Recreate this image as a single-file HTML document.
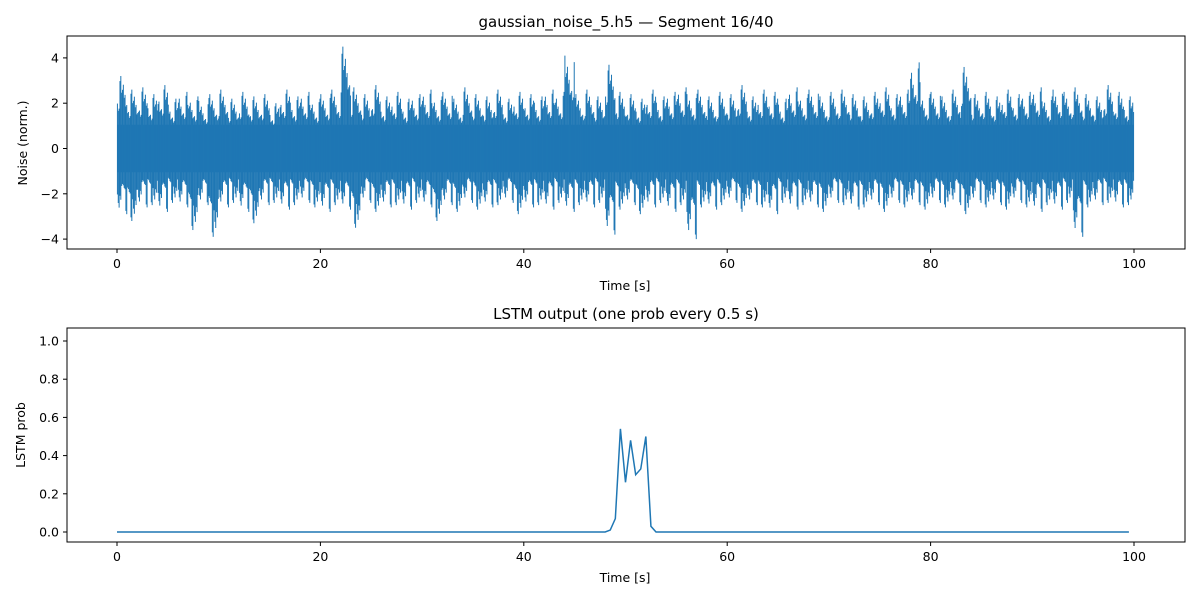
<!DOCTYPE html>
<html><head><meta charset="utf-8"><style>
body{margin:0;background:#fff;font-family:"Liberation Sans","DejaVu Sans",sans-serif}
svg text{font-family:"DejaVu Sans","Liberation Sans",sans-serif;fill:#000}
</style></head><body>
<svg id="c" width="1200" height="600" xmlns="http://www.w3.org/2000/svg"></svg>
<script>
// Noise segment: per-second envelope (max / min) over 100 s
const noiseHi=[3.2,2.6,2.7,2.4,2.8,2.2,2.5,2.3,2.1,2.4,2.6,2.2,2.5,2.3,2.4,2.0,2.6,2.3,2.5,2.2,2.4,2.6,4.5,2.7,2.4,2.8,2.3,2.5,2.2,2.4,2.6,2.3,2.5,2.2,2.7,2.4,2.3,2.6,2.2,2.5,2.4,2.3,2.6,2.5,4.1,2.4,2.6,2.3,3.7,2.5,2.4,2.2,2.6,2.3,2.5,2.7,2.4,2.6,2.3,2.5,2.4,2.8,2.3,2.6,2.5,2.2,2.7,2.4,2.6,2.3,2.5,2.6,2.4,2.3,2.5,2.7,2.4,2.6,3.8,2.4,2.5,2.3,2.6,3.6,2.4,2.5,2.3,2.6,2.4,2.5,2.7,2.3,2.6,2.5,2.7,2.4,2.3,2.8,2.5,2.3];
const noiseLo=[-2.9,-3.2,-2.6,-2.5,-2.8,-2.4,-2.6,-3.6,-2.5,-3.9,-2.6,-2.4,-2.8,-3.3,-2.5,-2.4,-2.7,-2.5,-2.4,-2.6,-2.8,-2.5,-2.7,-3.5,-2.4,-2.8,-2.6,-2.5,-2.7,-2.4,-2.6,-3.2,-2.5,-2.8,-2.4,-2.7,-2.6,-2.5,-2.4,-2.9,-2.6,-2.5,-2.7,-2.4,-2.8,-2.5,-2.6,-2.4,-3.8,-2.7,-2.5,-2.9,-2.6,-2.4,-2.8,-2.5,-4.0,-2.6,-2.7,-2.5,-2.4,-2.8,-2.5,-2.6,-2.9,-2.4,-2.7,-2.5,-2.6,-2.8,-2.4,-2.5,-2.7,-2.6,-2.5,-2.8,-2.4,-2.6,-2.5,-2.7,-2.4,-2.6,-2.5,-2.9,-2.4,-2.6,-2.5,-2.7,-2.4,-2.6,-2.8,-2.5,-2.7,-2.4,-3.9,-2.6,-2.5,-2.4,-2.6,-2.5];
const coreHi=1.05, coreLo=-1.05;
const yTicksTop=[4,2,0,-2,-4];
const xTicks=[0,20,40,60,80,100];
// LSTM probs every 0.5 s (0..99.5)
const probT=[48.5,49,49.5,50,50.5,51,51.5,52,52.5];
const probV=[0.01,0.07,0.54,0.26,0.48,0.30,0.33,0.50,0.03];
const yTicksBot=[0.0,0.2,0.4,0.6,0.8,1.0];

const NS="http://www.w3.org/2000/svg",svg=document.getElementById('c');
function el(t,a,p){const e=document.createElementNS(NS,t);for(const k in a)e.setAttribute(k,a[k]);(p||svg).appendChild(e);return e;}
const L=67,R=1185;
const x=t=>117+(t)*(1134-117)/100;
const yT=v=>148.5-v*22.65;
const yB=v=>532-v*191;
const C='#1f77b4';
// irregular texture pattern (stroke styling only)
const texU=[0.62,0.88,0.55,0.74,1.0,0.6,0.81,0.52,0.7,0.93,0.58,0.77];
const texD=[0.7,0.56,0.9,0.62,0.78,1.0,0.54,0.83,0.6,0.72,0.95,0.57];

let g1=el('g',{});
let band=el('rect',{x:x(0),y:yT(coreHi),width:x(100)-x(0),height:yT(coreLo)-yT(coreHi),fill:C},g1);

const N=12;
for(let i=0;i<noiseHi.length;i++){
  for(let k=0;k<N;k++){
    const s=(i*5+k*7)%N, tt=i+(k+0.5)/N;
    const ln=el('line',{x1:x(tt),x2:x(tt),y1:yT(noiseHi[i]*texU[s]),y2:yT(noiseLo[i]*texD[(s+i)%N]),stroke:C,'stroke-width':1},g1);
    
  }
}
el('rect',{x:L,y:36,width:R-L,height:213,fill:'none',stroke:'#000','stroke-width':1},g1);
yTicksTop.forEach(v=>{el('line',{x1:L-4,x2:L,y1:yT(v),y2:yT(v),stroke:'#000'},g1);const t=el('text',{x:L-8,y:yT(v)+4.5,'text-anchor':'end','font-size':12.5},g1);t.textContent=v<0?'−'+(-v):v;});
xTicks.forEach(v=>{el('line',{x1:x(v),x2:x(v),y1:249,y2:253,stroke:'#000'},g1);const t=el('text',{x:x(v),y:268,'text-anchor':'middle','font-size':12.5},g1);t.textContent=v;});
let t1=el('text',{x:626,y:27,'text-anchor':'middle','font-size':15},g1);t1.textContent='gaussian_noise_5.h5 — Segment 16/40';

let a1=el('text',{x:625,y:290,'text-anchor':'middle','font-size':12.5},g1);a1.textContent='Time [s]';

let a2=el('text',{x:27,y:143,'text-anchor':'middle','font-size':12.5,transform:'rotate(-90 27 143)'},g1);a2.textContent='Noise (norm.)';


let g2=el('g',{});
let pts=[];
for(let i=0;i<200;i++){const t=i*0.5;const j=probT.indexOf(t);pts.push(x(t)+','+yB(j>=0?probV[j]:0));}
let pl=el('polyline',{points:pts.join(' '),fill:'none',stroke:C,'stroke-width':1.5},g2);

el('rect',{x:L,y:328,width:R-L,height:214,fill:'none',stroke:'#000'},g2);
yTicksBot.forEach(v=>{el('line',{x1:L-4,x2:L,y1:yB(v),y2:yB(v),stroke:'#000'},g2);const t=el('text',{x:L-8,y:yB(v)+4.5,'text-anchor':'end','font-size':12.5},g2);t.textContent=v.toFixed(1);});
xTicks.forEach(v=>{el('line',{x1:x(v),x2:x(v),y1:542,y2:546,stroke:'#000'},g2);const t=el('text',{x:x(v),y:561,'text-anchor':'middle','font-size':12.5},g2);t.textContent=v;});
let t2=el('text',{x:626,y:319,'text-anchor':'middle','font-size':15},g2);t2.textContent='LSTM output (one prob every 0.5 s)';

let a3=el('text',{x:625,y:582,'text-anchor':'middle','font-size':12.5},g2);a3.textContent='Time [s]';

let a4=el('text',{x:25,y:435,'text-anchor':'middle','font-size':12.5,transform:'rotate(-90 25 435)'},g2);a4.textContent='LSTM prob';

</script>
</body></html>
